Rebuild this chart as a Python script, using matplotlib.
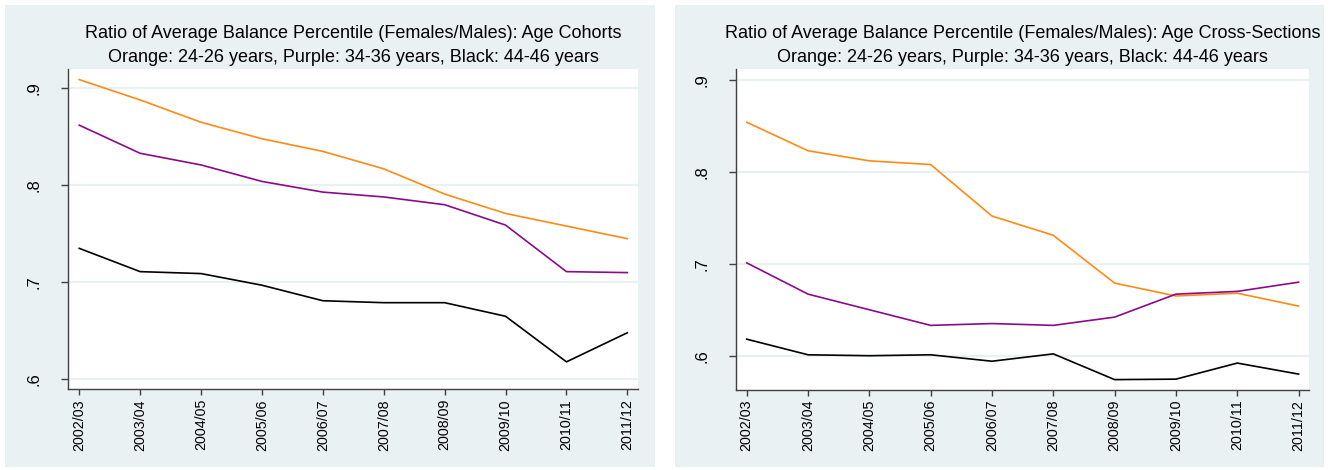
import matplotlib
matplotlib.use("Agg")
import matplotlib.pyplot as plt

years = ["2002/03", "2003/04", "2004/05", "2005/06", "2006/07",
         "2007/08", "2008/09", "2009/10", "2010/11", "2011/12"]

# Left panel: Age Cohorts
cohort_orange = [0.909, 0.888, 0.865, 0.848, 0.835, 0.817, 0.791, 0.771, 0.758, 0.745]
cohort_purple = [0.862, 0.833, 0.821, 0.804, 0.793, 0.788, 0.780, 0.759, 0.711, 0.710]
cohort_black  = [0.735, 0.711, 0.709, 0.697, 0.681, 0.679, 0.679, 0.665, 0.618, 0.648]

# Right panel: Age Cross-Sections
cross_orange = [0.854, 0.823, 0.812, 0.808, 0.752, 0.731, 0.679, 0.665, 0.668, 0.654]
cross_purple = [0.701, 0.667, 0.650, 0.633, 0.635, 0.633, 0.642, 0.667, 0.670, 0.680]
cross_black  = [0.618, 0.601, 0.600, 0.601, 0.594, 0.602, 0.574, 0.5745, 0.592, 0.580]

yticks = [0.6, 0.7, 0.8, 0.9]
ytick_labels = [".6", ".7", ".8", ".9"]

titles = ["Ratio of Average Balance Percentile (Females/Males): Age Cohorts",
          "Ratio of Average Balance Percentile (Females/Males): Age Cross-Sections"]
subtitle = "Orange: 24-26 years, Purple: 34-36 years, Black: 44-46 years"

BG = "#EAF1F3"
GRID = "#EAF1F3"
ORANGE = "#FF8A14"
PURPLE = "#8B0A8B"
AXC = "#404040"

plt.rcParams['font.family'] = ['Liberation Sans', 'DejaVu Sans']

W, H = 1329, 470
fig = plt.figure(figsize=(W / 100, H / 100), dpi=100)
fig.patch.set_facecolor("white")

# panel backgrounds (pixels: left 5..655, right 675..1324; y 5..467)
for (x0, x1) in [(5, 655), (675, 1324)]:
    bgax = fig.add_axes([x0 / W, 1 - 467 / H, (x1 - x0) / W, (467 - 5) / H], zorder=-5)
    bgax.set_facecolor(BG)
    bgax.set_xticks([])
    bgax.set_yticks([])
    for s in bgax.spines.values():
        s.set_visible(False)

panels = [
    dict(rect=(68.3, 637.7, 69.3, 389.3), ylim=(0.5897, 0.9196),
         data=(cohort_orange, cohort_purple, cohort_black), title=titles[0]),
    dict(rect=(735.7, 1309.0, 69.3, 390.0), ylim=(0.5627, 0.9116),
         data=(cross_orange, cross_purple, cross_black), title=titles[1]),
]

x = list(range(len(years)))
for p in panels:
    l, r, t, b = p["rect"]
    ax = fig.add_axes([l / W, 1 - b / H, (r - l) / W, (b - t) / H], zorder=1)
    ax.set_facecolor("white")
    ax.set_xlim(-0.18, 9.17)
    ax.set_ylim(*p["ylim"])
    for yv in yticks:
        ax.axhline(yv, color=GRID, lw=1.6, zorder=1)
    o, pu, bl = p["data"]
    ax.plot(x, o, color=ORANGE, lw=1.2, zorder=3)
    ax.plot(x, pu, color=PURPLE, lw=1.2, zorder=3)
    ax.plot(x, bl, color="black", lw=1.2, zorder=3)
    ax.set_xticks(x)
    ax.set_xticklabels(years, rotation=90, fontsize=10.3)
    ax.set_yticks(yticks)
    ax.set_yticklabels(ytick_labels, rotation=90, fontsize=12, va="center")
    for s in ["top", "right"]:
        ax.spines[s].set_visible(False)
    for s in ["left", "bottom"]:
        ax.spines[s].set_color(AXC)
        ax.spines[s].set_linewidth(1.0)
    ax.tick_params(axis="y", length=5, width=1.0, color=AXC, pad=14)
    ax.tick_params(axis="x", length=4, width=1.0, color=AXC, pad=3)
    cx = (l + r) / 2 / W
    fig.text(cx, 1 - 33 / H, p["title"], ha="center", va="center", fontsize=13)
    fig.text(cx, 1 - 57 / H, subtitle, ha="center", va="center", fontsize=13)

fig.savefig("out.png", dpi=100, facecolor="white")
